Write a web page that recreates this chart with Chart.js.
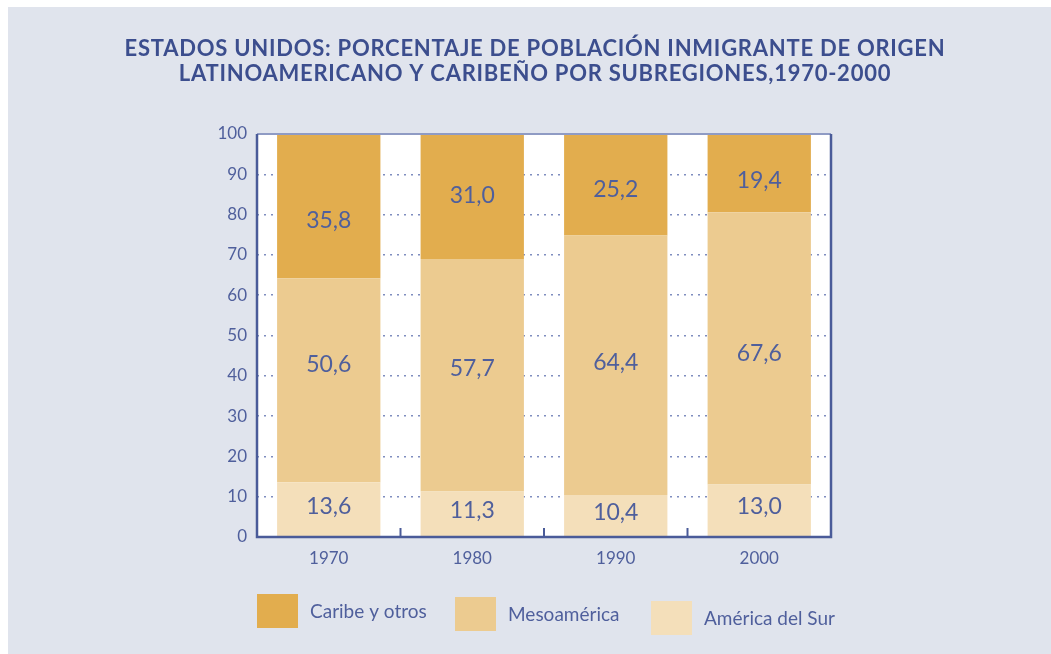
<!DOCTYPE html>
<html>
<head>
<meta charset="utf-8">
<script src="https://cdn.jsdelivr.net/npm/chart.js@4"></script>
<style>
  html, body { margin: 0; padding: 0; background: #fff; }
  #wrap { width: 1051px; height: 654px; position: relative; }
</style>
</head>
<body>
<div id="wrap"><canvas id="chart" width="1051" height="654"></canvas></div>
<script>
// data, bottom of the stack first
const years = ['1970', '1980', '1990', '2000'];
const sur = [13.6, 11.3, 10.4, 13.0];
const meso = [50.6, 57.7, 64.4, 67.6];
const caribe = [35.8, 31.0, 25.2, 19.4];
const seriesNames = ['América del Sur', 'Mesoamérica', 'Caribe y otros'];
const yTicks = [0, 10, 20, 30, 40, 50, 60, 70, 80, 90, 100];
const titleLines = [
  'ESTADOS UNIDOS: PORCENTAJE DE POBLACIÓN INMIGRANTE DE ORIGEN',
  'LATINOAMERICANO Y CARIBEÑO POR SUBREGIONES,1970-2000'
];

const ink = '#4f5f9c';
const dark = '#3c4e8e';
const font = 'Lato, "Open Sans", sans-serif';

const fmt = v => v.toFixed(1).replace('.', ',');

// the labels in the original are placed by hand, not exactly centred
const nudge = [[-3, -3, -3, -4], [-16, -7, -3, 5], [14, -1, 5, 7]];

const decor = {
  id: 'decor',
  beforeDraw(chart) {
    const ctx = chart.ctx, a = chart.chartArea;
    ctx.save();
    ctx.fillStyle = '#fff';
    ctx.fillRect(0, 0, chart.width, chart.height);
    ctx.fillStyle = '#e0e4ed';
    ctx.fillRect(8, 7, chart.width - 8, chart.height - 7);
    ctx.fillStyle = '#fff';
    ctx.fillRect(a.left, a.top, a.right - a.left, a.bottom - a.top);
    ctx.restore();
  },
  afterDraw(chart) {
    const ctx = chart.ctx, a = chart.chartArea;
    ctx.save();
    // title
    ctx.fillStyle = dark;
    ctx.font = 'bold 22px ' + font;
    ctx.letterSpacing = '0.75px';
    ctx.textAlign = 'center';
    ctx.textBaseline = 'middle';
    ctx.fillText(titleLines[0], 535, 49);
    ctx.fillText(titleLines[1], 535, 74);
    ctx.letterSpacing = '0px';

    // frame
    ctx.strokeStyle = '#8f9bc4';
    ctx.lineWidth = 2;
    ctx.beginPath();
    ctx.moveTo(a.left, a.top); ctx.lineTo(a.right, a.top);
    ctx.stroke();
    ctx.strokeStyle = '#4a5b99';
    ctx.lineWidth = 2.5;
    ctx.beginPath();
    ctx.moveTo(a.left, a.top); ctx.lineTo(a.left, a.bottom);
    ctx.lineTo(a.right, a.bottom); ctx.lineTo(a.right, a.top);
    ctx.stroke();

    // short ticks between categories
    const xs = chart.scales.x;
    ctx.lineWidth = 2;
    for (let i = 0; i < years.length - 1; i++) {
      const x = (xs.getPixelForTick(i) + xs.getPixelForTick(i + 1)) / 2;
      ctx.beginPath();
      ctx.moveTo(x, a.bottom); ctx.lineTo(x, a.bottom - 9);
      ctx.stroke();
    }

    // values inside the bars
    ctx.fillStyle = ink;
    ctx.font = '23px ' + font;
    chart.data.datasets.forEach((ds, di) => {
      chart.getDatasetMeta(di).data.forEach((bar, i) => {
        ctx.fillText(fmt(ds.data[i]), bar.x, (bar.y + bar.base) / 2 + nudge[di][i]);
      });
    });

    // legend, top series first
    const spots = [[257, 594, 310], [455, 597, 508], [651, 601, 704]];
    ctx.textAlign = 'left';
    ctx.font = '19px ' + font;
    const order = chart.data.datasets.slice().reverse();
    order.forEach((ds, k) => {
      const [bx, by, tx] = spots[k];
      ctx.fillStyle = ds.backgroundColor;
      ctx.fillRect(bx, by, 41, 34);
      ctx.fillStyle = ink;
      ctx.fillText(ds.label, tx, by + 18);
    });
    ctx.restore();
  }
};

new Chart(document.getElementById('chart'), {
  type: 'bar',
  plugins: [decor],
  data: {
    labels: years,
    datasets: [
      { label: seriesNames[0], data: sur, backgroundColor: '#f4dfba' },
      { label: seriesNames[1], data: meso, backgroundColor: '#eccb90' },
      { label: seriesNames[2], data: caribe, backgroundColor: '#e2ad4e' }
    ]
  },
  options: {
    responsive: false,
    animation: false,
    layout: { padding: { top: 134, right: 220, left: 0, bottom: 0 } },
    datasets: { bar: { categoryPercentage: 1, barPercentage: 0.72 } },
    plugins: { legend: { display: false }, title: { display: false }, tooltip: { enabled: false } },
    scales: {
      x: {
        stacked: true,
        grid: { display: false },
        border: { display: false },
        ticks: { color: ink, font: { family: font, size: 17 }, padding: 3 },
        afterFit: s => { s.height = 117; }
      },
      y: {
        stacked: true,
        min: 0, max: 100,
        afterBuildTicks: s => { s.ticks = yTicks.map(v => ({ value: v })); },
        grid: { color: '#7f8dbf', lineWidth: 1.5, drawTicks: false },
        border: { display: false, dash: [2, 5] },
        ticks: { color: ink, font: { family: font, size: 17 }, padding: 10 },
        afterFit: s => { s.width = 257; }
      }
    }
  }
});
</script>
</body>
</html>
